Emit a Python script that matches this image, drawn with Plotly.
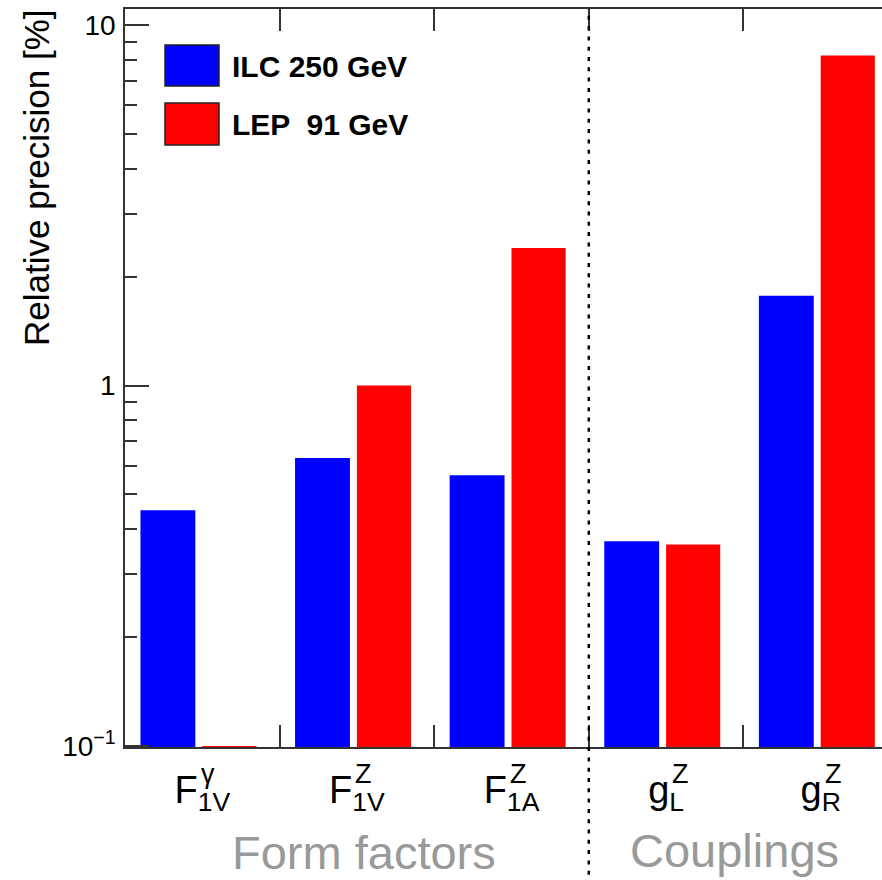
import plotly.graph_objects as go

# ---- data ----
categories = ["F1V_gamma", "F1V_Z", "F1A_Z", "gL_Z", "gR_Z"]
tick_base = ["F", "F", "F", "g", "g"]
tick_sub = ["1V", "1V", "1A", "L", "R"]
tick_sup = ["γ", "Z", "Z", "Z", "Z"]
ilc_250 = [0.451, 0.630, 0.564, 0.370, 1.776]
lep_91 = [0.100, 1.00, 2.41, 0.362, 8.24]
series_names = ["ILC 250 GeV", "LEP  91 GeV"]
group_labels = ["Form factors", "Couplings"]
y_tickvals = [0.1, 1, 10]
y_ticktext = ["10<sup>−1</sup>", "1", "10"]
y_minor = [0.2, 0.3, 0.4, 0.5, 0.6, 0.7, 0.8, 0.9, 2, 3, 4, 5, 6, 7, 8, 9]

FONT = "Liberation Sans, Arial, Helvetica, sans-serif"
BLUE = "#0000ff"
RED = "#ff0000"
AX = "#333333"

W, H = 882, 880
L, T, B = 125, 9, 133
PW = W - L
PH = H - T - B
CATW = 154.6  # px per category


def px_x(px):
    return (px - L) / PW


def px_y(py):
    return (H - B - py) / PH


fig = go.Figure()
fig.add_trace(go.Bar(x=categories, y=ilc_250, name=series_names[0],
                     marker=dict(color=BLUE, line=dict(width=0)),
                     offset=-0.40, width=0.355, showlegend=False))
fig.add_trace(go.Bar(x=categories, y=lep_91, name=series_names[1],
                     marker=dict(color=RED, line=dict(width=0)),
                     offset=0.0, width=0.35, showlegend=False))

x_range_max = -0.5 + PW / CATW
FS = 38

fig.update_layout(
    width=W, height=H,
    margin=dict(l=L, r=0, t=T, b=B, pad=0),
    paper_bgcolor="white", plot_bgcolor="white",
    barmode="overlay",
    showlegend=False,
    font=dict(family=FONT, color="black"),
    xaxis=dict(
        type="category", range=[-0.5, x_range_max],
        tickmode="array", tickvals=categories,
        ticktext=[f"{b}<sub>{s}</sub>" for b, s in zip(tick_base, tick_sub)],
        tickson="boundaries", ticks="inside", ticklen=22, tickwidth=1.5, tickcolor=AX,
        showline=True, linecolor=AX, linewidth=1.5, mirror="ticks",
        showgrid=False, zeroline=False, automargin=False,
        tickfont=dict(size=FS, family=FONT, color="black"),
        ticklabelstandoff=9,
    ),
    yaxis=dict(
        type="log", range=[-1.003, 1.045],
        tickmode="array", tickvals=y_tickvals, ticktext=y_ticktext,
        ticks="inside", ticklen=24, tickwidth=1.5, tickcolor=AX,
        minor=dict(tickvals=y_minor, ticks="inside", ticklen=12, tickwidth=1.5, tickcolor=AX, showgrid=False),
        showline=True, linecolor=AX, linewidth=1.5, mirror=False,
        showgrid=False, zeroline=False, automargin=False,
        tickfont=dict(size=28, family=FONT, color="black"),
        ticklabelstandoff=2,
    ),
    yaxis2=dict(
        type="log", range=[-1.003, 1.045], overlaying="y", side="right", anchor="x",
        tickmode="array", tickvals=[1, 10], ticks="inside", ticklen=7, tickwidth=1.5,
        tickcolor=AX, showticklabels=False, showline=False, showgrid=False, zeroline=False,
    ),
)

# superscripts stacked over the subscripts
adv = {"F": 0.611, "g": 0.556, "1V": 1.223, "1A": 1.223, "L": 0.556, "R": 0.722}
for i, (b, s, sp) in enumerate(zip(tick_base, tick_sub, tick_sup)):
    wb = adv[b] * FS
    ws = adv[s] * FS * 0.7
    xs = -(wb + ws) / 2 + wb + 1
    fig.add_annotation(x=categories[i], xref="x", y=px_y(774), yref="paper",
                       text=sp, showarrow=False, xanchor="left", yanchor="middle",
                       xshift=xs, font=dict(size=27, family=FONT, color="black"))

# separator
fig.add_shape(type="line", xref="x", yref="paper", x0=2.5, x1=2.5, y0=px_y(885), y1=1,
              line=dict(color="black", width=2.5, dash="4px,6.3px"))

# legend
for (y0, y1, c, name, ty) in [(45, 86, BLUE, series_names[0], 66.5), (103, 145, RED, series_names[1], 124)]:
    fig.add_shape(type="rect", xref="paper", yref="paper",
                  x0=px_x(165), x1=px_x(219), y0=px_y(y1), y1=px_y(y0),
                  fillcolor=c, line=dict(color="#222222", width=1.5))
    fig.add_annotation(x=px_x(230), y=px_y(ty), xref="paper", yref="paper",
                       text=f"<b>{name}</b>", showarrow=False, xanchor="left", yanchor="middle",
                       font=dict(size=30, family=FONT, color="black"))

# group labels
fig.add_annotation(x=px_x(363.5), y=px_y(852), xref="paper", yref="paper", text=group_labels[0],
                   showarrow=False, xanchor="center", yanchor="middle",
                   font=dict(size=47, family=FONT, color="#999999"))
fig.add_annotation(x=px_x(734), y=px_y(850), xref="paper", yref="paper", text=group_labels[1],
                   showarrow=False, xanchor="center", yanchor="middle",
                   font=dict(size=47, family=FONT, color="#999999"))

# y title
fig.add_annotation(x=px_x(37), y=px_y(178), xref="paper", yref="paper",
                   text="Relative precision [%]", textangle=-90, showarrow=False,
                   xanchor="center", yanchor="middle",
                   font=dict(size=35, family=FONT, color="black"))

fig.write_html("out.html")
